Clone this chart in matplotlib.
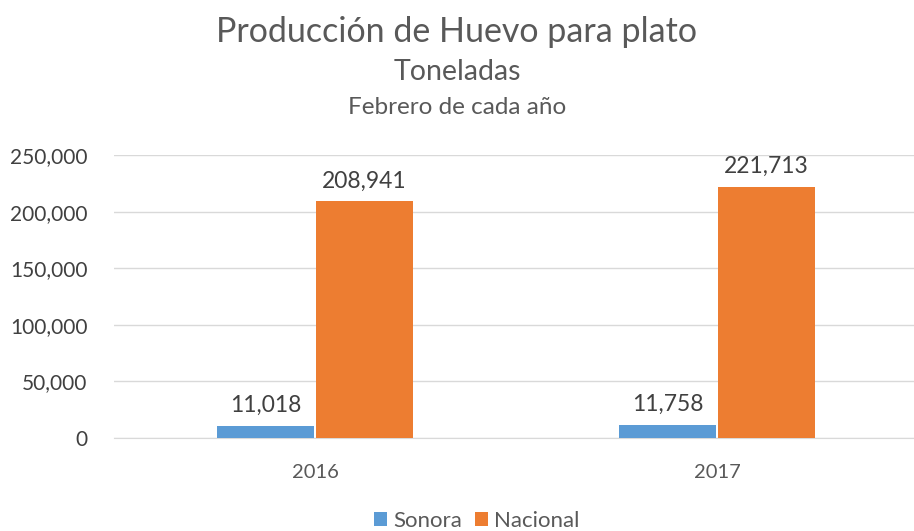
import matplotlib
matplotlib.use("Agg")
import matplotlib.pyplot as plt
import numpy as np

categories = ["2016", "2017"]
sonora = [11018, 11758]
nacional = [208941, 221713]
yticks = [0, 50000, 100000, 150000, 200000, 250000]

plt.rcParams['font.family'] = ['Lato', 'DejaVu Sans']
txt = '#595959'

fig = plt.figure(figsize=(9.14, 5.31), dpi=100)
ax = fig.add_axes([114/914, 1-438/531, 804/914, (438-155)/531])

x = np.arange(len(categories))
w = 0.24
b1 = ax.bar(x - w/2 - 0.003, sonora, w, color='#5B9BD5', label='Sonora', zorder=3)
b2 = ax.bar(x + w/2 + 0.003, nacional, w, color='#ED7D31', label='Nacional', zorder=3)

for bars, vals in ((b1, sonora), (b2, nacional)):
    for r, v in zip(bars, vals):
        ax.annotate(f"{v:,}", (r.get_x() + r.get_width()/2, v), xytext=(0, 7),
                    textcoords='offset points', ha='center', va='bottom',
                    fontsize=16.5, color='#404040')

ax.set_xlim(-0.5, 1.5)
ax.set_ylim(0, 250000)
ax.set_yticks(yticks)
ax.set_yticklabels([f"{t:,}" for t in yticks], fontsize=15, color='#404040')
ax.set_xticks(x)
ax.set_xticklabels(categories, fontsize=14.5, color=txt)
ax.tick_params(axis='both', length=0)
ax.tick_params(axis='y', pad=19)
ax.tick_params(axis='x', pad=19)
ax.grid(axis='y', color='#D9D9D9', linewidth=1, zorder=0)
for s in ['top', 'right', 'left']:
    ax.spines[s].set_visible(False)
ax.spines['bottom'].set_color('#D9D9D9')

fig.text(0.5, 1-32/531, "Producción de Huevo para plato", ha='center', va='center', fontsize=24.5, color=txt)
fig.text(0.5, 1-72/531, "Toneladas", ha='center', va='center', fontsize=20.5, color=txt)
fig.text(0.5, 1-107/531, "Febrero de cada año", ha='center', va='center', fontsize=17.5, color=txt)

fig.legend(handles=[b1, b2], loc='center', bbox_to_anchor=(477/914, 1-521/531), ncol=2,
           frameon=False, fontsize=16, handlelength=0.55, handleheight=0.55,
           handletextpad=0.3, columnspacing=0.6, labelcolor=txt)

fig.savefig("out.png", dpi=100)
